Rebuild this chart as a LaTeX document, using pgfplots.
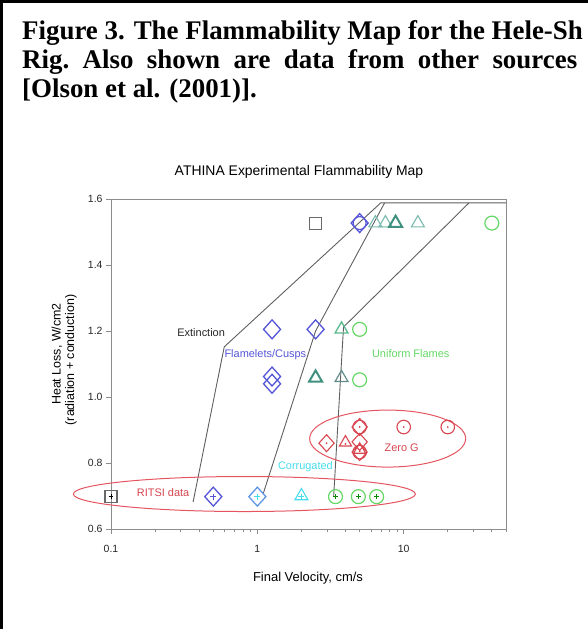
\documentclass[border=0pt]{standalone}
\usepackage{pgfplots}
\pgfplotsset{compat=1.18}
\usepackage{fontspec}
\setmainfont{Liberation Sans}
\newfontfamily\capfont{Liberation Serif}

\definecolor{axisGray}{RGB}{140,140,140}
\definecolor{lineGray}{RGB}{95,95,95}
\definecolor{sqGray}{RGB}{105,105,105}
\definecolor{blueM}{RGB}{85,85,215}
\definecolor{blueCy}{RGB}{95,150,230}
\definecolor{cyanM}{RGB}{70,220,235}
\definecolor{tealD}{RGB}{65,145,128}
\definecolor{tealL}{RGB}{120,185,175}
\definecolor{tealG}{RGB}{100,140,140}
\definecolor{tealGr}{RGB}{90,185,140}
\definecolor{greenM}{RGB}{100,215,100}
\definecolor{redM}{RGB}{215,70,80}
\definecolor{redE}{RGB}{228,85,95}

\begin{document}
\begin{tikzpicture}[x=1bp,y=1bp]
\useasboundingbox (0,0) rectangle (588,629);
\draw[line width=3bp] (1.5,0) -- (1.5,627.5) -- (588,627.5);

% caption
\node[anchor=base west, inner sep=0] at (22,629-40)
  {\capfont\bfseries\fontsize{27}{29}\selectfont Figure 3. The Flammability Map for the Hele-Sh};
\node[anchor=base west, inner sep=0] at (22,629-69)
  {\capfont\bfseries\fontsize{27}{29}\selectfont\makebox[555bp][s]{Rig.\ Also shown are data from other sources}};
\node[anchor=base west, inner sep=0] at (22,629-98)
  {\capfont\bfseries\fontsize{27}{29}\selectfont [Olson et al. (2001)].};

% chart title and axis labels
\node at (299,629-172) {\fontsize{14}{16}\selectfont ATHINA Experimental Flammability Map};
\node at (308,629-578) {\fontsize{13}{15}\selectfont Final Velocity, cm/s};
\node[rotate=90] at (57,629-354) {\fontsize{12.5}{15}\selectfont Heat Loss, W/cm2};
\node[rotate=90] at (71,629-360) {\fontsize{12.5}{15}\selectfont (radiation + conduction)};

\begin{axis}[
  at={(111bp,100bp)}, anchor=south west,
  scale only axis, width=395bp, height=330bp,
  xmode=log, xmin=0.1, xmax=50, ymin=0.6, ymax=1.6,
  clip=false,
  axis line style={draw=axisGray, line width=0.9bp},
  tick style={draw=axisGray, line width=0.8bp},
  tick align=outside, tick pos=left,
  major tick length=5bp, minor tick length=3bp,
  xtick={0.1,1,10}, xticklabels={0.1,1,10},
  minor xtick={0.2,0.3,0.4,0.5,0.6,0.7,0.8,0.9,2,3,4,5,6,7,8,9,20,30,40,50},
  ytick={0.6,0.8,1.0,1.2,1.4,1.6},
  ticklabel style={font=\fontsize{10.5}{12}\selectfont, text=black!85},
  xticklabel style={yshift=-8bp},
  yticklabel style={/pgf/number format/.cd, fixed, fixed zerofill, precision=1, assume math mode=true},
]

% regime boundaries
\addplot[lineGray, line width=0.9bp] coordinates {(0.364,0.682) (0.594,1.152) (6.96,1.588) (50,1.588)};
\addplot[lineGray, line width=0.9bp] coordinates {(1.10,0.709) (2.5,1.2) (7.4,1.588)};
\addplot[lineGray, line width=0.9bp] coordinates {(3.32,0.697) (3.88,1.212) (27.9,1.588)};

% ellipses
\draw[redE, line width=1bp] (axis cs:0.815,0.706) ellipse [x radius=171bp, y radius=17.5bp];
\draw[redE, line width=1bp] (axis cs:7.77,0.874) ellipse [x radius=78bp, y radius=28.5bp];

% squares
\addplot[only marks, sqGray, mark=square, mark size=6, mark options={line width=1.1bp}]
  coordinates {(2.5,1.527) (0.1,0.698)};
\addplot[only marks, black, mark=+, mark size=2.5, mark options={line width=0.9bp}]
  coordinates {(0.1,0.698)};

% blue diamonds
\addplot[only marks, blueM, mark=diamond, mark size=9.5, mark options={line width=1.3bp, xscale=1.2}]
  coordinates {(1.26,1.205) (2.5,1.205) (1.26,1.062) (1.26,1.040) (5.0,1.527) (0.5,0.698)};
\addplot[only marks, blueM, mark=o, mark size=6.5, mark options={line width=1.2bp}]
  coordinates {(5.0,1.527)};
\addplot[only marks, blueM, mark=+, mark size=3, mark options={line width=1bp}]
  coordinates {(0.5,0.698)};
\addplot[only marks, blueCy, mark=diamond, mark size=9.5, mark options={line width=1.3bp, xscale=1.2}]
  coordinates {(1.0,0.698)};
\addplot[only marks, cyanM, mark=+, mark size=3, mark options={line width=1bp}]
  coordinates {(1.0,0.698)};

% triangles
\addplot[only marks, tealL, mark=triangle, mark size=7.5, mark options={line width=1.1bp}]
  coordinates {(6.4,1.527) (7.5,1.527) (12.5,1.527)};
\addplot[only marks, tealD, mark=triangle, mark size=7.5, mark options={line width=2bp}]
  coordinates {(8.8,1.527) (2.5,1.058)};
\addplot[only marks, tealGr, mark=triangle, mark size=7.5, mark options={line width=1.3bp}]
  coordinates {(3.76,1.205)};
\addplot[only marks, tealG, mark=triangle, mark size=7.5, mark options={line width=1.2bp}]
  coordinates {(3.76,1.058)};
\addplot[only marks, cyanM, mark=triangle, mark size=7.5, mark options={line width=1.1bp}]
  coordinates {(2.0,0.700)};
\addplot[only marks, cyanM, mark=+, mark size=3, mark options={line width=1bp}]
  coordinates {(2.0,0.698)};

% green circles
\addplot[only marks, greenM, mark=o, mark size=7, mark options={line width=1.2bp}]
  coordinates {(40,1.527) (5.0,1.205) (5.0,1.052) (3.42,0.698) (4.9,0.698) (6.53,0.698)};
\addplot[only marks, green!55!black, mark=+, mark size=2.5, mark options={line width=1bp}]
  coordinates {(3.42,0.698) (4.9,0.698) (6.53,0.698)};

% zero-g data
\addplot[only marks, redM, mark=diamond, mark size=8.5, mark options={line width=1.1bp, xscale=1.2}]
  coordinates {(2.97,0.860) (5.0,0.864) (5.0,0.833) (5.0,0.909)};
\addplot[only marks, redM, mark=triangle, mark size=7, mark options={line width=1.1bp}]
  coordinates {(4.0,0.862) (5.0,0.840)};
\addplot[only marks, redM, mark=o, mark size=6.8, mark options={line width=1.1bp}]
  coordinates {(5.0,0.909) (10,0.909) (20,0.909) (5.0,0.833)};
\addplot[only marks, redM, mark=*, mark size=0.7]
  coordinates {(2.97,0.860) (4.0,0.858) (5.0,0.909) (10,0.909) (20,0.909) (5.0,0.836)};

% region labels
\node[text=black!85, font=\fontsize{11}{13}\selectfont] at (axis cs:0.413,1.194) {Extinction};
\node[text=blueM, font=\fontsize{11}{13}\selectfont] at (axis cs:1.134,1.127) {Flamelets/Cusps};
\node[text=greenM, font=\fontsize{11}{13}\selectfont] at (axis cs:11.17,1.133) {Uniform Flames};
\node[text=cyanM, font=\fontsize{11}{13}\selectfont] at (axis cs:2.13,0.788) {Corrugated};
\node[text=redM, font=\fontsize{11}{13}\selectfont] at (axis cs:0.227,0.709) {RITSI data};
\node[text=redM, font=\fontsize{11}{13}\selectfont] at (axis cs:9.69,0.845) {Zero G};
\end{axis}
\end{tikzpicture}
\end{document}
